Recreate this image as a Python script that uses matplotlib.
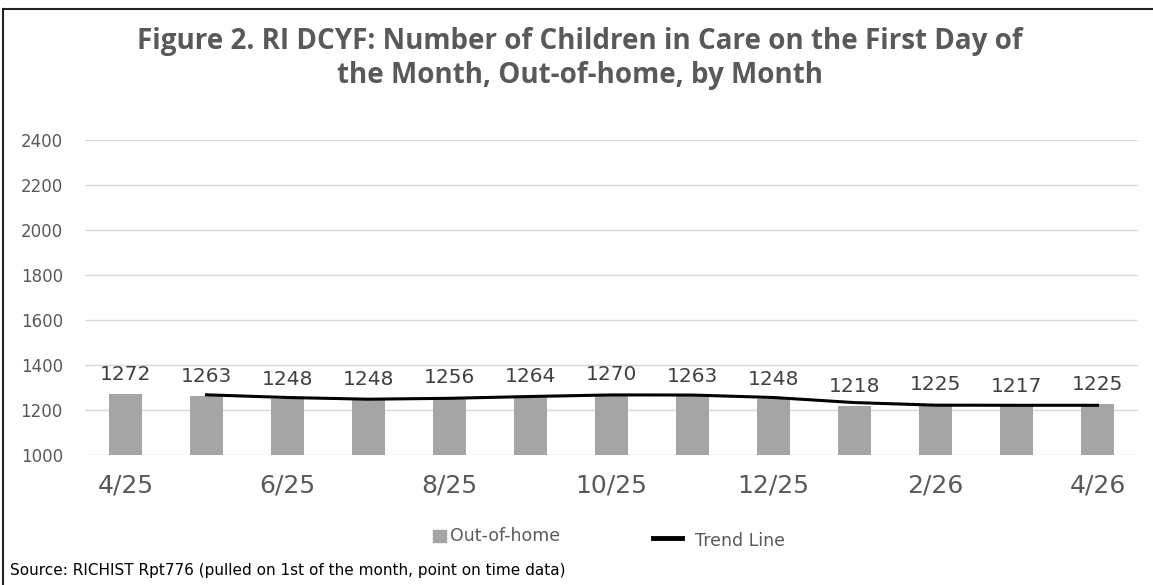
import matplotlib.pyplot as plt
from matplotlib.lines import Line2D
from matplotlib.patches import Rectangle

# data
months = ['4/25', '5/25', '6/25', '7/25', '8/25', '9/25', '10/25',
          '11/25', '12/25', '1/26', '2/26', '3/26', '4/26']
out_of_home = [1272, 1263, 1248, 1248, 1256, 1264, 1270, 1263, 1248, 1218, 1225, 1217, 1225]
# trend line (2-period moving average as drawn, starting at 5/25)
trend = [1267.5, 1255.5, 1248, 1252, 1260, 1267, 1266.5, 1255.5, 1233, 1221.5, 1221, 1221]
yticks = [1000, 1200, 1400, 1600, 1800, 2000, 2200, 2400]

W, H = 1153, 585
fig = plt.figure(figsize=(W / 100, H / 100), dpi=100)
ax = fig.add_axes([85 / W, 1 - 455 / H, (1138 - 85) / W, (455 - 140) / H])

x = list(range(len(months)))
ax.bar(x, out_of_home, width=0.4, color='#A5A5A5', zorder=3)
ax.plot(x[1:], trend, color='black', lw=2.2, zorder=4)

for xi, v in zip(x, out_of_home):
    ax.annotate(str(v), (xi, v), xytext=(0, 14), textcoords='offset points',
                ha='center', va='center', fontsize=14.5, color='#404040')

ax.set_xlim(-0.5, len(months) - 0.5)
ax.set_ylim(1000, 2400)
ax.set_yticks(yticks)
ax.set_yticklabels([str(t) for t in yticks], fontsize=12, color='#595959')
ax.set_xticks(x[::2])
ax.set_xticklabels(months[::2], fontsize=18, color='#595959')
ax.tick_params(axis='both', length=0)
ax.tick_params(axis='x', pad=13)
ax.tick_params(axis='y', pad=16)
ax.grid(axis='y', color='#D9D9D9', lw=1, zorder=0)
for s in ax.spines.values():
    s.set_visible(False)

title_kw = dict(ha='center', va='center', fontsize=20, fontweight='bold',
                color='#595959', family='Open Sans')
fig.text(580 / W, 1 - 42 / H, 'Figure 2. RI DCYF: Number of Children in Care on the First Day of', **title_kw)
fig.text(580 / W, 1 - 75 / H, 'the Month, Out-of-home, by Month', **title_kw)

# legend, drawn by hand
fig.add_artist(Rectangle((433 / W, 1 - 542 / H), 13 / W, 12 / H, color='#A5A5A5',
                         transform=fig.transFigure))
fig.text(450 / W, 1 - 536 / H, 'Out-of-home', ha='left', va='center', fontsize=12.5, color='#595959')
fig.add_artist(Line2D([653 / W, 682 / W], [1 - 538 / H, 1 - 538 / H], color='black', lw=3.5))
fig.text(695 / W, 1 - 541 / H, 'Trend Line', ha='left', va='center', fontsize=12.5, color='#595959')

fig.text(10 / W, 1 - 570 / H, 'Source: RICHIST Rpt776 (pulled on 1st of the month, point on time data)',
         ha='left', va='center', fontsize=11, color='black')

# outer frame
fig.add_artist(Line2D([3 / W, 3 / W], [0, 1 - 9 / H], color='#222222', lw=1.5))
fig.add_artist(Line2D([3 / W, 1], [1 - 9 / H, 1 - 9 / H], color='#222222', lw=1.5))

fig.savefig('out.png', dpi=100)
